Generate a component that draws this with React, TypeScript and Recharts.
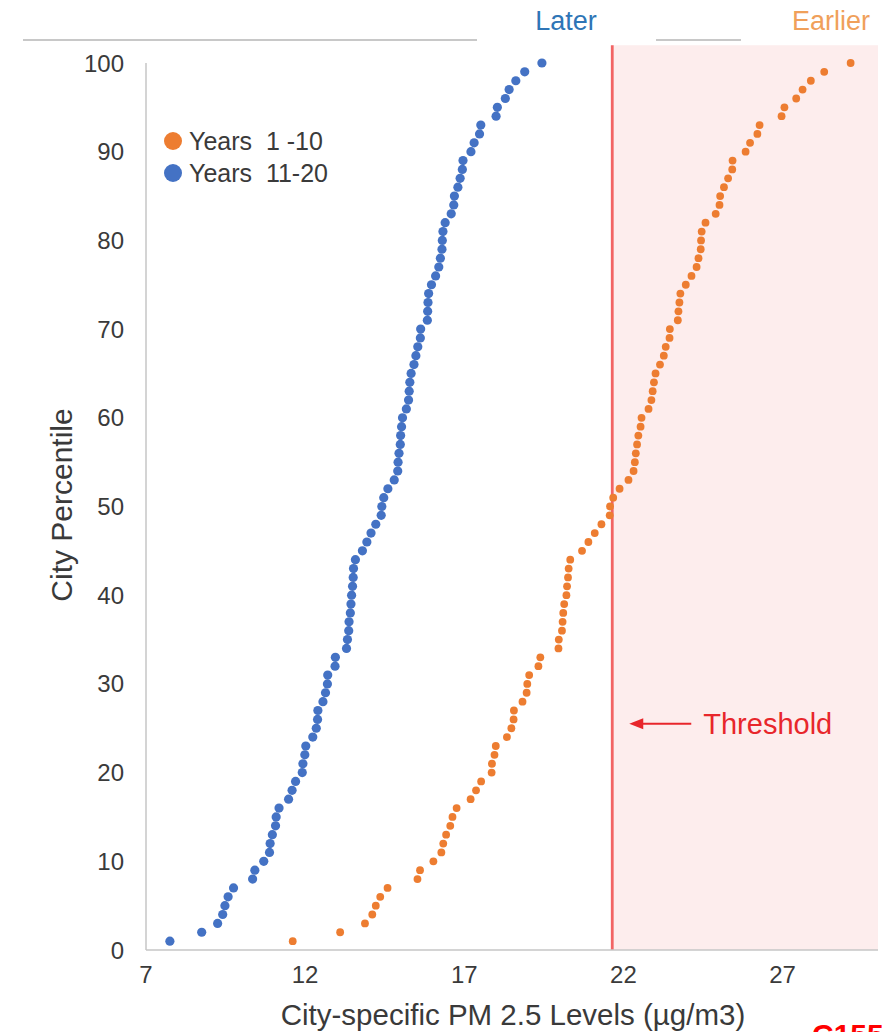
import React from 'react';
import { ScatterChart, Scatter, XAxis, YAxis, ReferenceLine, ReferenceArea, Legend } from 'recharts';

const PERCENTILES = [
  1, 2, 3, 4, 5, 6, 7, 8, 9, 10, 11, 12, 13, 14, 15, 16, 17, 18, 19, 20,
  21, 22, 23, 24, 25, 26, 27, 28, 29, 30, 31, 32, 33, 34, 35, 36, 37, 38, 39, 40,
  41, 42, 43, 44, 45, 46, 47, 48, 49, 50, 51, 52, 53, 54, 55, 56, 57, 58, 59, 60,
  61, 62, 63, 64, 65, 66, 67, 68, 69, 70, 71, 72, 73, 74, 75, 76, 77, 78, 79, 80,
  81, 82, 83, 84, 85, 86, 87, 88, 89, 90, 91, 92, 93, 94, 95, 96, 97, 98, 99, 100,
];

const YEARS_1_10 = [
  11.61, 13.10, 13.88, 14.11, 14.22, 14.36, 14.59, 15.53, 15.61, 16.03,
  16.28, 16.34, 16.43, 16.56, 16.63, 16.76, 17.20, 17.37, 17.53, 17.86,
  17.87, 17.95, 17.99, 18.34, 18.48, 18.55, 18.56, 18.83, 18.96, 18.98,
  19.04, 19.33, 19.39, 19.96, 19.97, 20.07, 20.09, 20.11, 20.14, 20.21,
  20.23, 20.26, 20.28, 20.33, 20.70, 20.90, 21.10, 21.31, 21.57, 21.58,
  21.68, 21.88, 22.16, 22.32, 22.36, 22.39, 22.43, 22.47, 22.54, 22.57,
  22.79, 22.88, 22.92, 22.96, 23.01, 23.15, 23.27, 23.33, 23.45, 23.46,
  23.71, 23.73, 23.76, 23.79, 23.96, 24.14, 24.30, 24.36, 24.43, 24.44,
  24.46, 24.58, 24.90, 25.02, 25.04, 25.16, 25.29, 25.42, 25.43, 25.84,
  25.98, 26.21, 26.28, 26.97, 27.06, 27.43, 27.63, 27.89, 28.31, 29.14,
];

const YEARS_11_20 = [
  7.75, 8.75, 9.25, 9.41, 9.48, 9.58, 9.75, 10.35, 10.42, 10.70,
  10.88, 10.90, 10.97, 11.07, 11.09, 11.18, 11.48, 11.59, 11.70, 11.91,
  11.93, 11.99, 12.02, 12.24, 12.35, 12.39, 12.40, 12.56, 12.64, 12.70,
  12.71, 12.94, 12.95, 13.30, 13.33, 13.37, 13.38, 13.42, 13.44, 13.46,
  13.49, 13.51, 13.52, 13.58, 13.80, 13.94, 14.07, 14.22, 14.39, 14.41,
  14.47, 14.60, 14.80, 14.91, 14.92, 14.95, 14.99, 15.00, 15.03, 15.06,
  15.18, 15.25, 15.27, 15.29, 15.33, 15.42, 15.48, 15.54, 15.62, 15.63,
  15.84, 15.85, 15.86, 15.88, 15.97, 16.10, 16.20, 16.25, 16.30, 16.31,
  16.33, 16.40, 16.59, 16.67, 16.69, 16.80, 16.87, 16.94, 16.96, 17.21,
  17.31, 17.48, 17.52, 18.00, 18.04, 18.29, 18.41, 18.62, 18.90, 19.44,
];

const SERIES_NAMES = ['Years  1 -10', 'Years  11-20'];
const X_TICKS = [7, 12, 17, 22, 27];
const Y_TICKS = [0, 10, 20, 30, 40, 50, 60, 70, 80, 90, 100];
const X_MIN = 7;
const X_MAX = 30;
const Y_MAX = 100;
const Y_EXTENDED = 102;
const THRESHOLD = 21.65;
const THRESHOLD_LABEL_AT = 25.5;

const FONT = '"Liberation Sans", Arial, Helvetica, sans-serif';
const ORANGE = '#ED7D31';
const BLUE = '#4472C4';
const RED_LINE = '#F26464';
const RED_TEXT = '#E8262B';
const PINK = '#FDEDED';
const AXIS_GRAY = '#C6C6C6';
const TEXT_GRAY = '#3A3A3A';

const orangeData = PERCENTILES.map((p, i) => ({ x: YEARS_1_10[i], y: p }));
const blueData = PERCENTILES.map((p, i) => ({ x: YEARS_11_20[i], y: p }));

const makeDot = (r: number, color: string) => (props: any) => {
  const { cx, cy } = props;
  if (cx == null || cy == null) return <g />;
  return <circle cx={cx} cy={cy} r={r} fill={color} />;
};

const ThresholdLabel = (props: any) => {
  const vb = props.viewBox || {};
  const x = vb.x ?? 0;
  const y = (vb.y ?? 0) + (vb.height ?? 0) * (1 - THRESHOLD_LABEL_AT / Y_EXTENDED);
  return (
    <g>
      <line x1={x + 28} y1={y} x2={x + 79} y2={y} stroke={RED_TEXT} strokeWidth={2} />
      <polygon points={`${x + 17},${y} ${x + 31},${y - 5.5} ${x + 31},${y + 5.5}`} fill={RED_TEXT} />
      <text x={x + 91} y={y + 10} fill={RED_TEXT} fontSize={29} fontFamily={FONT}>
        Threshold
      </text>
    </g>
  );
};

const renderLegend = (props: any) => {
  const payload = props.payload || [];
  return (
    <svg width={200} height={70} style={{ display: 'block' }}>
      {payload.map((entry: any, i: number) => (
        <g key={i}>
          <circle cx={11} cy={14 + i * 32} r={9} fill={entry.color} />
          <text x={27} y={23 + i * 32} fontSize={25} fontFamily={FONT} fill={TEXT_GRAY} style={{ whiteSpace: 'pre' }}>
            {entry.value}
          </text>
        </g>
      ))}
    </svg>
  );
};

export default function App() {
  return (
    <div style={{ position: 'absolute', left: 0, top: 0, width: 890, height: 1032, background: '#fff', overflow: 'hidden' }}>
      <ScatterChart
        width={890}
        height={1032}
        margin={{ top: 63, right: 12, bottom: 52, left: 0 }}
      >
        <ReferenceArea
          x1={THRESHOLD}
          x2={X_MAX}
          y1={0}
          y2={Y_EXTENDED}
          ifOverflow="visible"
          fill={PINK}
          fillOpacity={1}
          stroke="none"
        />
        <XAxis
          type="number"
          dataKey="x"
          domain={[X_MIN, X_MAX]}
          ticks={X_TICKS}
          allowDataOverflow
          height={30}
          tickLine={false}
          tickSize={0}
          tickMargin={16}
          axisLine={{ stroke: AXIS_GRAY, strokeWidth: 1.5 }}
          tick={{ fill: TEXT_GRAY, fontSize: 24, fontFamily: FONT }}
          interval={0}
        />
        <YAxis
          type="number"
          dataKey="y"
          domain={[0, Y_MAX]}
          ticks={Y_TICKS}
          width={146}
          tickLine={false}
          tickSize={0}
          tickMargin={22}
          axisLine={{ stroke: AXIS_GRAY, strokeWidth: 1.5 }}
          tick={{ fill: TEXT_GRAY, fontSize: 24, fontFamily: FONT }}
          interval={0}
        />
        <Legend
          layout="vertical"
          align="center"
          verticalAlign="middle"
          wrapperStyle={{ left: 162, top: 127, width: 200, height: 70 }}
          content={renderLegend}
        />
        <Scatter
          name={SERIES_NAMES[0]}
          data={orangeData}
          fill={ORANGE}
          shape={makeDot(3.9, ORANGE)}
          isAnimationActive={false}
        />
        <Scatter
          name={SERIES_NAMES[1]}
          data={blueData}
          fill={BLUE}
          shape={makeDot(4.6, BLUE)}
          isAnimationActive={false}
        />
        <ReferenceLine
          segment={[{ x: THRESHOLD, y: 0 }, { x: THRESHOLD, y: Y_EXTENDED }]}
          ifOverflow="visible"
          stroke={RED_LINE}
          strokeWidth={2.8}
          label={<ThresholdLabel />}
        />
      </ScatterChart>
      <svg
        width={890}
        height={1032}
        style={{ position: 'absolute', left: 0, top: 0, pointerEvents: 'none' }}
      >
        <line x1={23} y1={40} x2={477} y2={40} stroke="#C8C8C8" strokeWidth={2} />
        <line x1={656} y1={40} x2={741} y2={40} stroke="#C8C8C8" strokeWidth={2} />
        <text x={566} y={30} textAnchor="middle" fontSize={27} fontFamily={FONT} fill="#2E75B6">
          Later
        </text>
        <text x={831} y={30} textAnchor="middle" fontSize={27} fontFamily={FONT} fill="#F0A05A">
          Earlier
        </text>
        <text x={513} y={1025} textAnchor="middle" fontSize={29.5} fontFamily={FONT} fill={TEXT_GRAY}>
          City-specific PM 2.5 Levels (µg/m3)
        </text>
        <text
          x={72}
          y={505}
          textAnchor="middle"
          fontSize={30}
          fontFamily={FONT}
          fill={TEXT_GRAY}
          transform="rotate(-90, 72, 505)"
        >
          City Percentile
        </text>
        <text x={812} y={1045} fontSize={30} fontWeight="bold" fontFamily={FONT} fill="#FF0000">
          C155
        </text>
      </svg>
    </div>
  );
}
